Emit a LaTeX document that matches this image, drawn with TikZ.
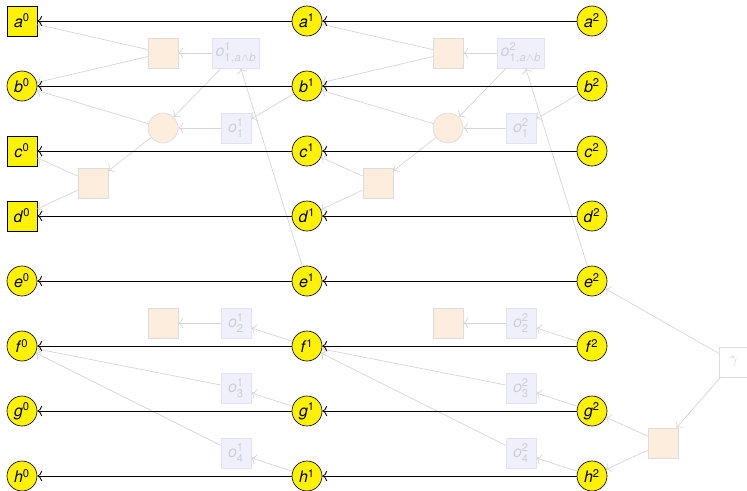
\documentclass[tikz,border=0pt]{standalone}
\usepackage{amsmath}
\usepackage{fontspec}
\setmainfont{TeX Gyre Heros}
\setsansfont{TeX Gyre Heros}
\usetikzlibrary{arrows.meta}

\definecolor{facfill}{HTML}{FDEDDC}
\definecolor{facdraw}{HTML}{DCDCDC}
\definecolor{labfill}{HTML}{F0F0FC}
\definecolor{labdraw}{HTML}{E2E2F2}
\definecolor{labtext}{HTML}{CDCDDF}
\definecolor{edgegray}{HTML}{D6D6D6}

\tikzset{
  var/.style={circle, draw=black, fill=yellow, minimum size=18.75pt, inner sep=0pt},
  varobs/.style={var, rectangle},
  factor/.style={rectangle, draw=facdraw, fill=facfill, minimum size=18.75pt, inner sep=0pt},
  factorc/.style={factor, circle},
  obslab/.style={rectangle, draw=labdraw, fill=labfill, text=labtext, minimum width=18.75pt, minimum height=18.75pt, inner sep=2pt},
  gbox/.style={rectangle, draw=facdraw, fill=white, text=edgegray, minimum size=18.75pt, inner sep=0pt},
  chain/.style={-{To[length=3pt, width=6.5pt]}, black, line width=0.5pt},
  soft/.style={-{To[length=3pt, width=6.5pt]}, draw=edgegray, line width=0.45pt},
}
\newcommand{\vv}[2]{\textit{#1}\textsuperscript{#2}}
\newcommand{\ob}[2]{$\textit{o}^{\textrm{#1}}_{#2}$}

\begin{document}
\begin{tikzpicture}[x=0.625pt, y=-0.625pt]
\def\colgap{285}
\useasboundingbox (0,0) rectangle (747,490);

% VARIABLES
\foreach \v/\y/\s in {a/21/varobs, b/86/var, c/151/varobs, d/216/varobs, e/281/var, f/346/var, g/411/var, h/476/var} {
  \node[\s] (\v0) at (22,\y) {\vv{\v}{0}};
  \node[var] (\v1) at (307,\y) {\vv{\v}{1}};
  \node[var] (\v2) at (592,\y) {\vv{\v}{2}};
}

% FACTORS BETWEEN TWO COLUMNS
\foreach \k/\j in {1/0, 2/1} {
\begin{scope}[shift={({(\k-1)*\colgap},0)}]
\node[factor] (fab\k) at (163,53) {};
\node[obslab] (oab\k) at (236,53) {\ob{\k}{\textrm{1},\textit{a}\wedge\textit{b}}};
\node[factorc] (fc\k) at (163,128) {};
\node[obslab] (oc\k) at (236,128) {\ob{\k}{\textrm{1}}};
\node[factor] (fcd\k) at (93,183) {};
\node[factor] (ff\k) at (163,323) {};
\node[obslab] (of\k) at (236,323) {\ob{\k}{\textrm{2}}};
\node[obslab] (og\k) at (236,388) {\ob{\k}{\textrm{3}}};
\node[obslab] (oh\k) at (236,453) {\ob{\k}{\textrm{4}}};

\draw[soft] (oab\k) -- (fab\k);
\draw[soft] (fab\k) -- (a\j);
\draw[soft] (fab\k) -- (b\j);
\draw[soft] (oab\k) -- (fc\k);
\draw[soft] (oc\k) -- (fc\k);
\draw[soft] (fc\k) -- (b\j);
\draw[soft] (fc\k) -- (fcd\k);
\draw[soft] (fcd\k) -- (c\j);
\draw[soft] (fcd\k) -- (d\j);
\draw[soft] (b\k) -- (oc\k);
\draw[soft] (e\k) -- (oab\k);
\draw[soft] (of\k) -- (ff\k);
\draw[soft] (f\k) -- (of\k);
\draw[soft] (g\k) -- (og\k);
\draw[soft] (h\k) -- (oh\k);
\draw[soft] (og\k) -- (f\j);
\draw[soft] (oh\k) -- (f\j);
\end{scope}
}

% PRIOR ON THE LAST COLUMN
\node[gbox] (gam) at (734,362) {$\gamma$};
\node[factor] (fgh) at (663,443) {};
\draw[soft] (gam) -- (e2);
\draw[soft] (gam) -- (fgh);
\draw[soft] (fgh) -- (g2);
\draw[soft] (fgh) -- (h2);

% CHAINS
\foreach \v in {a,b,c,d,e,f,g,h} {
  \draw[chain] (\v2) -- (\v1);
  \draw[chain] (\v1) -- (\v0);
}
\end{tikzpicture}
\end{document}
